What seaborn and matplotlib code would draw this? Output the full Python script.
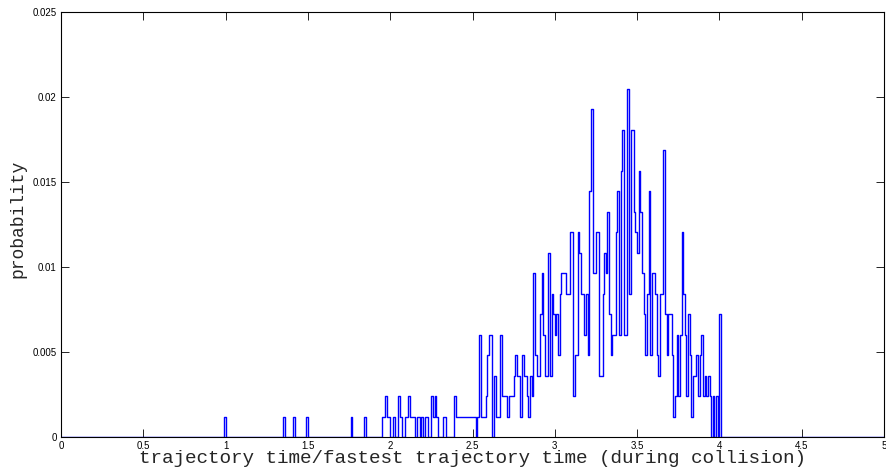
import numpy as np
import pandas as pd
import matplotlib
matplotlib.use("Agg")
import matplotlib.pyplot as plt
import seaborn as sns

# ---------------- data ----------------
bin_width = 0.01
x_min, x_max = 0.0, 5.0
prob_unit = 1 / 830  # probability of one sample

# isolated single-bin spikes (bin start, counts)
sparse_x = [0.99, 1.35, 1.41, 1.49, 1.76, 1.84]
sparse_counts = [1, 1, 1, 1, 1, 1]

# consecutive bins starting at dense_start
dense_start = 1.95
dense_counts = [
    1, 1, 2, 1, 1, 0, 0, 1, 0, 0,
    2, 1, 0, 0, 1, 1, 2, 1, 1, 1,
    0, 1, 1, 0, 1, 0, 1, 1, 0, 0,
    2, 1, 2, 1, 0, 0, 0, 1, 1, 0,
    0, 0, 0, 0, 2, 1, 1, 1, 1, 1,
    1, 1, 1, 1, 1, 1, 1, 0, 1, 5,
    1, 1, 1, 2, 4, 5, 5, 0, 3, 1,
    1, 1, 5, 2, 2, 2, 1, 2, 2, 2,
    3, 4, 3, 3, 1, 4, 3, 3, 2, 1,
    3, 2, 8, 4, 3, 3, 6, 8, 5, 3,
    3, 9, 3, 7, 6, 5, 6, 4, 7, 8,
    8, 8, 7, 7, 10, 10, 2, 4, 4, 10,
    9, 7, 7, 5, 7, 4, 12, 16, 8, 8,
    10, 10, 3, 3, 7, 9, 8, 11, 6, 4,
    5, 5, 10, 12, 5, 13, 15, 5, 5, 17,
    7, 15, 15, 11, 10, 9, 13, 11, 8, 6,
    4, 7, 12, 4, 8, 8, 7, 4, 3, 7,
    7, 14, 6, 4, 6, 6, 4, 1, 2, 5,
    2, 5, 10, 7, 5, 2, 6, 4, 1, 3,
    3, 4, 2, 4, 5, 2, 3, 2, 3, 2,
    0, 2, 0, 2, 0, 6,
]

x_ticks = [0, 0.5, 1, 1.5, 2, 2.5, 3, 3.5, 4, 4.5, 5]
x_tick_labels = ["0", "0.5", "1", "1.5", "2", "2.5", "3", "3.5", "4", "4.5", "5"]
y_ticks = [0, 0.005, 0.01, 0.015, 0.02, 0.025]
y_tick_labels = ["0", "0.005", "0.01", "0.015", "0.02", "0.025"]

x_label = "trajectory time/fastest trajectory time (during collision)"
y_label = "probability"

# ---------------- build table ----------------
n_bins = int(round((x_max - x_min) / bin_width))
edges = [round(x_min + i * bin_width, 6) for i in range(n_bins + 1)]
counts = np.zeros(n_bins)
for xs, c in zip(sparse_x, sparse_counts):
    counts[int(round(xs / bin_width))] = c
s = int(round(dense_start / bin_width))
counts[s:s + len(dense_counts)] = dense_counts
centers = np.array(edges[:-1]) + bin_width / 2
df = pd.DataFrame({"t": centers, "p": counts * prob_unit})

# ---------------- plot ----------------
sns.set_style("ticks")
plt.rcParams["font.family"] = ["Liberation Sans", "DejaVu Sans"]

fig = plt.figure(figsize=(8.86, 4.73), dpi=100)
ax = fig.add_axes([61 / 886, 1 - 437 / 473, (884 - 61) / 886, (437 - 12) / 473])

sns.histplot(data=df, x="t", weights="p", bins=edges, element="step",
             fill=False, color="blue", linewidth=1.0, ax=ax)

ax.set_xlim(x_min, x_max)
ax.set_ylim(0, 0.025)
ax.set_xticks(x_ticks)
ax.set_xticklabels(x_tick_labels)
ax.set_yticks(y_ticks)
ax.set_yticklabels(y_tick_labels)

for sp in ax.spines.values():
    sp.set_visible(True)
    sp.set_color("black")
    sp.set_linewidth(0.8)

ax.tick_params(axis="both", direction="in", length=6, width=0.6,
               top=True, right=True, labelsize=7, pad=3, colors="black")

ax.set_xlabel(x_label, family=["Liberation Mono", "DejaVu Sans Mono"],
              fontsize=13.9, labelpad=-1)
ax.set_ylabel(y_label, family=["Liberation Mono", "DejaVu Sans Mono"],
              fontsize=13.0, labelpad=4.5)
ax.yaxis.label.set_y(0.513)

fig.savefig("out.png", dpi=100)
